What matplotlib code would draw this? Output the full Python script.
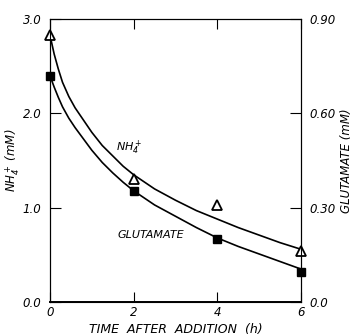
import matplotlib
matplotlib.use('Agg')
import matplotlib.pyplot as plt

# measured points
time_h = [0, 2, 4, 6]
nh4_mM = [2.83, 1.31, 1.03, 0.54]
glu_mM = [0.72, 0.354, 0.20, 0.096]

# fitted curves
curve_t = [0, 0.05, 0.1, 0.2, 0.3, 0.45, 0.6, 0.8, 1.0, 1.25, 1.5, 1.75,
           2, 2.5, 3, 3.5, 4, 4.5, 5, 5.5, 6]
nh4_curve = [2.83, 2.73, 2.63, 2.47, 2.33, 2.18, 2.06, 1.93, 1.80, 1.66, 1.55, 1.44,
             1.35, 1.20, 1.08, 0.97, 0.88, 0.79, 0.71, 0.63, 0.56]
glu_curve = [0.723, 0.702, 0.684, 0.651, 0.621, 0.585, 0.555, 0.519, 0.483, 0.444, 0.411, 0.381,
             0.354, 0.309, 0.273, 0.237, 0.204, 0.177, 0.153, 0.129, 0.105]

x_ticks = [0, 2, 4, 6]
left_ticks = [0.0, 1.0, 2.0, 3.0]
left_labels = ['0.0', '1.0', '2.0', '3.0']
right_ticks = [0.0, 0.30, 0.60, 0.90]
right_labels = ['0.0', '0.30', '0.60', '0.90']

plt.rcParams.update({
    'font.family': 'DejaVu Sans',
    'font.style': 'italic',
    'font.size': 8.5,
    'axes.linewidth': 0.8,
})

fig = plt.figure(figsize=(3.57, 3.36), dpi=100)
ax = fig.add_axes([0.140, 0.101, 0.703, 0.842])
ax2 = ax.twinx()

ax.plot(curve_t, nh4_curve, color='black', lw=1.2)
ax.plot(time_h, nh4_mM, linestyle='none', marker='^', ms=6.5,
        mfc='white', mec='black', mew=1.3, clip_on=False, zorder=5)
ax2.plot(curve_t, glu_curve, color='black', lw=1.2)
ax2.plot(time_h, glu_mM, linestyle='none', marker='s', ms=5.5,
         color='black', clip_on=False, zorder=5)

ax.set_xlim(0, 6)
ax.set_ylim(0, 3.0)
ax2.set_ylim(0, 0.90)

ax.set_xticks(x_ticks)
ax.set_xticklabels([str(t) for t in x_ticks])
ax.set_yticks(left_ticks)
ax.set_yticklabels(left_labels)
ax2.set_yticks(right_ticks)
ax2.set_yticklabels(right_labels)

ax.tick_params(axis='x', direction='in', top=True, length=7, width=0.8, pad=3)
ax.tick_params(axis='y', direction='in', length=8, width=0.8, pad=6)
ax2.tick_params(axis='y', direction='in', length=8, width=0.8, pad=6)
ax.spines['bottom'].set_linewidth(1.4)

ax.set_xlabel('TIME  AFTER  ADDITION  (h)', fontsize=9, labelpad=3)
ax.set_ylabel('NH$_4^+$ (mM)', fontsize=8.5, labelpad=1)
ax2.set_ylabel('GLUTAMATE (mM)', fontsize=8.5, labelpad=3)

ax.text(1.9, 1.63, 'NH$_4^+$', fontsize=8, ha='center', va='center')
ax.text(2.4, 0.71, 'GLUTAMATE', fontsize=8, ha='center', va='center')

fig.savefig('out.png', dpi=100, facecolor='white')
